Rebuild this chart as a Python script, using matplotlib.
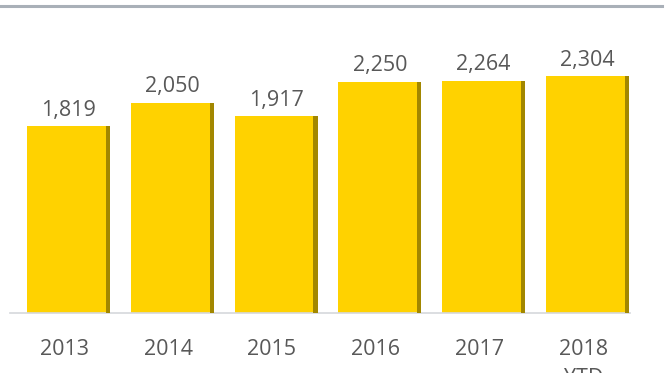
import matplotlib

matplotlib.use("Agg")
import matplotlib.pyplot as plt
import numpy as np
from matplotlib.lines import Line2D

years = ["2013", "2014", "2015", "2016", "2017", "2018\nYTD"]
values = [1819, 2050, 1917, 2250, 2264, 2304]

BAR_YELLOW = "#FFD200"
BAR_SHADOW = "#A28700"
TEXT_GREY = "#585858"

plt.rcParams["font.family"] = ["Open Sans", "DejaVu Sans"]

fig = plt.figure(figsize=(6.7, 3.73), dpi=100)
# axes: left 10px, right 630px, bottom at 313px, top at 5px
ax = fig.add_axes([10 / 670, 1 - 313 / 373, 620 / 670, 308 / 373])

x = np.arange(len(values))
width = 0.8
shadow_w = 0.04
ax.bar(x, values, width=width, color=BAR_YELLOW, zorder=2)
ax.bar(x + width / 2 - shadow_w / 2, values, width=shadow_w, color=BAR_SHADOW,
       zorder=3)

for xi, v in zip(x, values):
    ax.annotate(f"{v:,}", (xi, v), xytext=(0, 4), textcoords="offset points",
                ha="center", va="bottom", fontsize=15.5, color=TEXT_GREY)

ax.set_xlim(-0.564, 5.41)
ax.set_ylim(0, 3000)
ax.set_xticks(x - 0.04)
# the "YTD" line under 2018 runs off the bottom edge, as in the original
ax.set_xticklabels(years, fontsize=15.5, color=TEXT_GREY, linespacing=1.45,
                   va="top")
ax.tick_params(axis="x", length=0, pad=19)
ax.set_yticks([])
for side in ("top", "left", "right"):
    ax.spines[side].set_visible(False)
ax.spines["bottom"].set_color("#D5D8DC")
ax.spines["bottom"].set_linewidth(1.2)

# grey rule across the top of the panel
fig.add_artist(Line2D([0, 662 / 670], [1 - 6 / 373, 1 - 6 / 373],
                      transform=fig.transFigure, color="#A9B0B8", linewidth=2.2))

fig.savefig("out.png", dpi=100)
